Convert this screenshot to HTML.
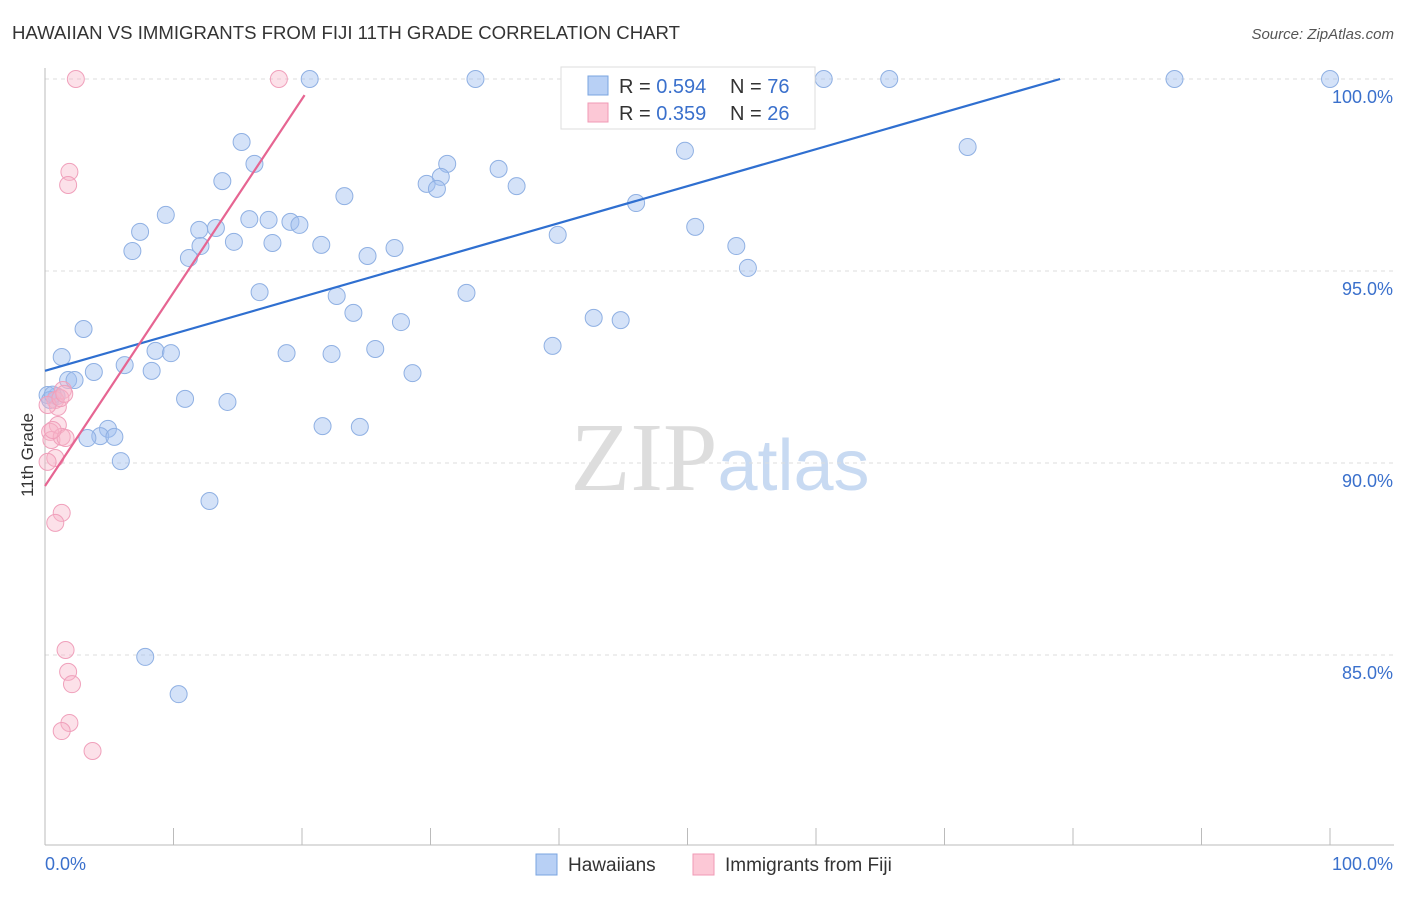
<!DOCTYPE html>
<html><head><meta charset="utf-8"><style>
body{margin:0;background:#fff;font-family:"Liberation Sans",sans-serif;}
svg text{font-family:"Liberation Sans",sans-serif;}
</style></head><body>
<svg id="chart" width="1406" height="892" xmlns="http://www.w3.org/2000/svg">
<text x="12" y="39" font-size="18" fill="#333" textLength="668" lengthAdjust="spacingAndGlyphs">HAWAIIAN VS IMMIGRANTS FROM FIJI 11TH GRADE CORRELATION CHART</text>
<text x="1394" y="39" font-size="15" fill="#555" text-anchor="end" font-style="italic">Source: ZipAtlas.com</text>
<text x="720" y="490" font-size="98" text-anchor="middle" fill="#ddd"><tspan fill="#ddd" font-family="Liberation Serif">ZIP</tspan><tspan fill="#c8daf2" font-family="Liberation Sans" font-size="72">atlas</tspan></text>
<g id="grid"></g><g id="axes"></g><g id="points"></g><g id="lines"></g>
<text transform="translate(33,455) rotate(-90)" font-size="17" fill="#333" text-anchor="middle">11th Grade</text>
<g>
<rect x="561" y="67" width="254" height="62" fill="#fff" stroke="#ddd"/>
<rect x="588" y="76" width="20" height="19" fill="#b8d0f5" stroke="#7aa4e0"/>
<rect x="588" y="103" width="20" height="19" fill="#fcc8d6" stroke="#f09ab5"/>
<text x="619" y="93" font-size="20" fill="#333">R = <tspan fill="#3a70cc">0.594</tspan></text>
<text x="730" y="93" font-size="20" fill="#333">N = <tspan fill="#3a70cc">76</tspan></text>
<text x="619" y="120" font-size="20" fill="#333">R = <tspan fill="#3a70cc">0.359</tspan></text>
<text x="730" y="120" font-size="20" fill="#333">N = <tspan fill="#3a70cc">26</tspan></text>
</g>
<g>
<rect x="536" y="854" width="21" height="21" fill="#b8d0f5" stroke="#7aa4e0"/>
<text x="568" y="871" font-size="19" fill="#333">Hawaiians</text>
<rect x="693" y="854" width="21" height="21" fill="#fcc8d6" stroke="#f09ab5"/>
<text x="725" y="871" font-size="19" fill="#333">Immigrants from Fiji</text>
</g>
</svg>
<script>
const yTicks=[100,95,90,85];
const yTickLabels=["100.0%","95.0%","90.0%","85.0%"];
const blueX=[20.6,33.5,60.6,65.7,87.9,100,15.3,16.3,13.8,49.8,71.8,31.3,35.3,30.8,29.7,30.5,36.7,23.3,9.4,46.0,7.4,12.0,13.3,15.9,17.4,19.1,19.8,12.1,14.7,17.7,21.5,6.8,11.2,25.1,27.2,39.9,50.6,53.8,54.7,16.7,22.7,32.8,24.0,27.7,42.7,44.8,3.0,1.3,8.6,9.8,18.8,22.3,25.7,39.5,6.2,3.8,8.3,1.8,2.3,28.6,0.9,10.9,14.2,21.6,24.5,4.9,4.3,5.4,3.3,5.9,12.8,7.8,10.4,0.2,0.4,0.6];
const blueY=[100,100,100,100,100,100,98.36,97.79,97.34,98.13,98.23,97.79,97.66,97.45,97.27,97.14,97.21,96.95,96.46,96.77,96.02,96.07,96.12,96.35,96.33,96.28,96.20,95.65,95.76,95.73,95.68,95.52,95.34,95.39,95.60,95.94,96.15,95.65,95.08,94.45,94.35,94.43,93.91,93.67,93.78,93.72,93.49,92.76,92.92,92.86,92.86,92.84,92.97,93.05,92.55,92.37,92.40,92.16,92.16,92.34,91.74,91.67,91.59,90.96,90.94,90.89,90.70,90.68,90.65,90.05,89.01,84.95,83.98,91.77,91.64,91.78];
const pinkX=[2.4,18.2,1.9,1.8,1.4,0.8,1.0,1.0,0.4,0.5,1.3,1.6,0.8,0.2,1.3,0.8,1.6,1.8,2.1,1.9,1.3,3.7,0.6,0.2,1.2,1.5];
const pinkY=[100,100,97.58,97.24,91.90,91.64,91.46,90.99,90.81,90.60,90.68,90.65,90.13,90.03,88.70,88.44,85.13,84.56,84.24,83.23,83.02,82.50,90.86,91.51,91.69,91.80];
const blueLine=[[0,92.40],[79.0,100]];
const pinkLine=[[0,89.40],[20.2,99.58]];
const NS="http://www.w3.org/2000/svg";
const X=v=>45+v*12.85, Y=v=>79+(100-v)*38.4;
function mk(t,a,p){const e=document.createElementNS(NS,t);for(const k in a)e.setAttribute(k,a[k]);document.getElementById(p).appendChild(e);return e;}
yTicks.forEach((t,i)=>{
 let g=mk('line',{x1:45,x2:1394,y1:Y(t),y2:Y(t),stroke:'#ddd','stroke-dasharray':'4,4'},'grid');
 
 
 let l=mk('text',{x:1393,y:Y(t)+24,'font-size':18,fill:'#3a70cc','text-anchor':'end'},'axes');
 l.textContent=yTickLabels[i];
 
 
});
let ax=mk('line',{x1:45,x2:45,y1:68,y2:845,stroke:'#bbb'},'axes');


let bx=mk('line',{x1:45,x2:1394,y1:845,y2:845,stroke:'#bbb'},'axes');


for(let i=0;i<=10;i++){let t=mk('line',{x1:X(i*10),x2:X(i*10),y1:828,y2:845,stroke:'#bbb'},'axes');
 
 }
[[0,"0.0%","start",45],[100,"100.0%","end",1393]].forEach(d=>{let t=mk('text',{x:d[3],y:870,'font-size':18,fill:'#3a70cc','text-anchor':d[2]},'axes');t.textContent=d[1];
 
 });
blueX.forEach((v,i)=>{let c=mk('circle',{cx:X(v),cy:Y(blueY[i]),r:8.5,fill:'rgba(160,190,240,0.45)',stroke:'#8fb0e3','stroke-width':1},'points');
 
 });
pinkX.forEach((v,i)=>{let c=mk('circle',{cx:X(v),cy:Y(pinkY[i]),r:8.5,fill:'rgba(248,180,200,0.4)',stroke:'#f0a0bb','stroke-width':1},'points');
 
 });
let b=mk('line',{x1:X(blueLine[0][0]),y1:Y(blueLine[0][1]),x2:X(blueLine[1][0]),y2:Y(blueLine[1][1]),stroke:'#2f6fd0','stroke-width':2.2},'lines');


let p=mk('line',{x1:X(pinkLine[0][0]),y1:Y(pinkLine[0][1]),x2:X(pinkLine[1][0]),y2:Y(pinkLine[1][1]),stroke:'#e66592','stroke-width':2.2},'lines');


</script>
</body></html>
